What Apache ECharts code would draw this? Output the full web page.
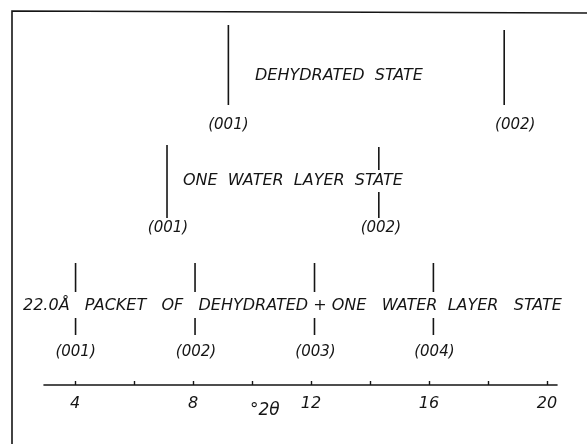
<!DOCTYPE html>
<html>
<head>
<meta charset="utf-8">
<script src="https://cdn.jsdelivr.net/npm/echarts@6/dist/echarts.min.js"></script>
<style>
  html, body { margin: 0; padding: 0; background: #fff; }
  #chart { width: 587px; height: 444px; }
</style>
</head>
<body>
<div id="chart"></div>
<script>
// Peak positions (degrees 2-theta) and their reflection indices for each hydration state
const dehydratedPeaks = [9.2, 18.55];
const dehydratedIndices = ['(001)', '(002)'];
const oneWaterPeaks = [7.12, 14.3];
const oneWaterIndices = ['(001)', '(002)'];
const packetPeaks = [4.02, 8.07, 12.12, 16.15];
const packetIndices = ['(001)', '(002)', '(003)', '(004)'];

// Axis ticks and labels
const tickValues = [4, 6, 8, 10, 12, 14, 16, 18, 20];
const tickLabels = [4, 8, 12, 16, 20];

const stateTitles = [
  'DEHYDRATED  STATE',
  'ONE  WATER  LAYER  STATE',
  '22.0Å   PACKET   OF   DEHYDRATED + ONE   WATER  LAYER   STATE'
];

// Vertical layout of each row (pixel rows of the plot, y axis runs top-down)
const rowLayout = [
  { tops: [25, 30], bottom: 105, gaps: [null, null], labelY: 125, labelDx: [0, 11], titleX: 255, titleY: 77 },
  { tops: [145, 147], bottom: 218, gaps: [null, [170, 192]], labelY: 228, labelDx: [1, 2], titleX: 183, titleY: 182 },
  { tops: [263, 263, 263, 263], bottom: 335, gaps: [[292, 318], [292, 318], [292, 318], [292, 318]], labelY: 352, labelDx: [0, 1, 1, 1], titleX: 23, titleY: 307 }
];

const rows = [
  { peaks: dehydratedPeaks, indices: dehydratedIndices },
  { peaks: oneWaterPeaks, indices: oneWaterIndices },
  { peaks: packetPeaks, indices: packetIndices }
];

const seriesData = [];
rows.forEach((row, r) => {
  row.peaks.forEach((p, i) => seriesData.push([p, r, i]));
});

const FONT = '"DejaVu Sans", "Liberation Sans", sans-serif';
const INK = '#151515';

function renderPeak(params, api) {
  const peak = api.value(0);
  const r = api.value(1);
  const i = api.value(2);
  const lay = rowLayout[r];
  const x = api.coord([peak, 0])[0];
  const top = api.coord([peak, lay.tops[i]])[1];
  const bottom = api.coord([peak, lay.bottom])[1];
  const gap = lay.gaps[i];
  const children = [];
  const lineStyle = { stroke: INK, lineWidth: 1.6 };
  if (gap) {
    children.push({ type: 'line', shape: { x1: x, y1: top, x2: x, y2: api.coord([peak, gap[0]])[1] }, style: lineStyle });
    children.push({ type: 'line', shape: { x1: x, y1: api.coord([peak, gap[1]])[1], x2: x, y2: bottom }, style: lineStyle });
  } else {
    children.push({ type: 'line', shape: { x1: x, y1: top, x2: x, y2: bottom }, style: lineStyle });
  }
  children.push({
    type: 'text',
    style: {
      x: x + lay.labelDx[i],
      y: api.coord([peak, lay.labelY])[1],
      text: rows[r].indices[i],
      fill: INK,
      font: 'italic 15px ' + FONT,
      align: 'center',
      verticalAlign: 'middle'
    }
  });
  return { type: 'group', children: children };
}

const chart = echarts.init(document.getElementById('chart'));

const titleGraphics = rowLayout.map((lay, r) => ({
  type: 'text',
  left: lay.titleX,
  top: lay.titleY - 9,
  style: {
    text: stateTitles[r],
    fill: INK,
    font: 'italic 16px ' + FONT
  }
}));

chart.setOption({
  animation: false,
  backgroundColor: '#fff',
  grid: { left: 44, right: 30, top: 0, height: 385 },
  xAxis: {
    type: 'value',
    min: 2.95,
    max: 20.34,
    splitLine: { show: false },
    axisLine: { onZero: false, lineStyle: { color: INK, width: 1.6 } },
    axisTick: { inside: true, length: 4, customValues: tickValues, lineStyle: { color: INK, width: 1.4 } },
    axisLabel: {
      customValues: tickLabels,
      color: INK,
      fontFamily: FONT,
      fontStyle: 'italic',
      fontSize: 16,
      margin: 11
    }
  },
  yAxis: {
    type: 'value',
    min: 0,
    max: 385,
    inverse: true,
    show: false
  },
  series: [{
    type: 'custom',
    renderItem: renderPeak,
    data: seriesData,
    clip: false
  }],
  graphic: titleGraphics.concat([
    {
      type: 'text',
      left: 250,
      top: 402,
      style: { text: '°2θ', fill: INK, font: 'italic 17px ' + FONT }
    },
    {
      type: 'polyline',
      shape: { points: [[12, 444], [12, 11], [587, 13]] },
      style: { stroke: INK, lineWidth: 1.6, fill: null }
    }
  ])
});
</script>
</body>
</html>
